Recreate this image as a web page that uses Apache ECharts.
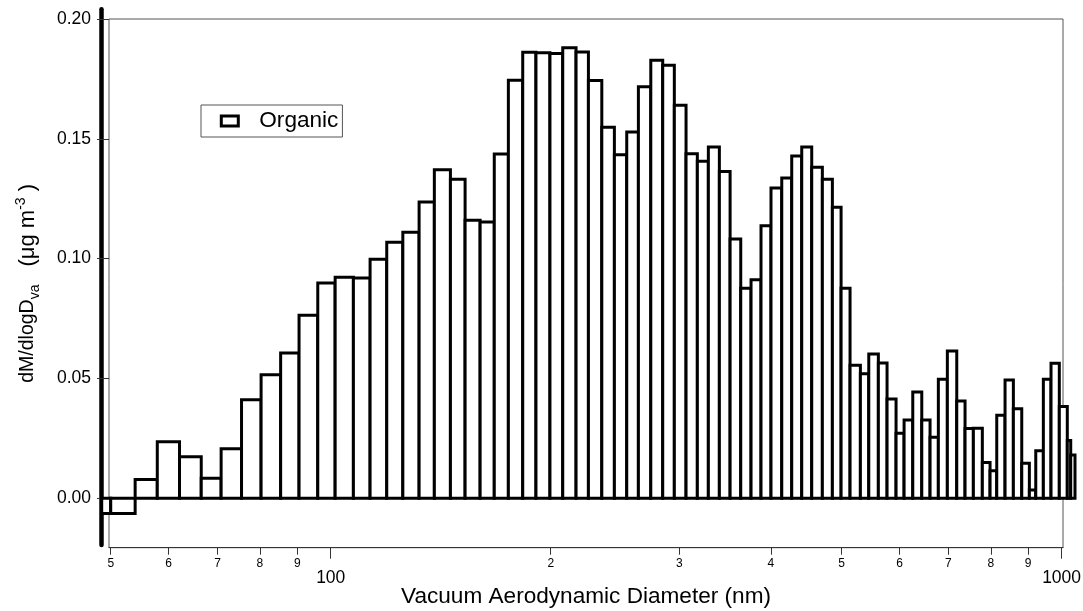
<!DOCTYPE html>
<html>
<head>
<meta charset="utf-8">
<style>
  html, body { margin: 0; padding: 0; background: #fff; }
  #chart { width: 1083px; height: 611px; }
</style>
<script src="https://cdn.jsdelivr.net/npm/echarts@6/dist/echarts.min.js"></script>
</head>
<body>
<div id="chart"></div>
<script>
// Bin edges (nm, vacuum aerodynamic diameter)
const binEdges = [48.6, 50.0, 54.0, 57.9, 62.1, 66.5, 70.8, 75.5, 80.3, 85.4, 90.5, 96.0,
  101.4, 107.4, 113.2, 119.3, 125.5, 132.1, 138.6, 145.8, 152.7, 160.1, 167.4, 175.0,
  183.1, 190.9, 199.5, 207.7, 216.6, 225.2, 234.9, 244.4, 254.1, 263.6, 274.1, 284.6,
  295.2, 306.3, 317.4, 328.6, 340.2, 351.9, 363.9, 375.9, 387.9, 400.3, 414.1, 427.3,
  441.0, 455.1, 470.6, 485.7, 499.2, 513.5, 530.5, 544.7, 561.4, 577.0, 593.6, 608.8,
  625.7, 643.7, 660.7, 678.2, 697.7, 718.7, 737.7, 757.3, 779.0, 798.2, 815.2, 836.8,
  859.0, 882.0, 903.4, 921.8, 944.1, 967.2, 992.8, 1018.1, 1029.1, 1043.1];

// Organic dM/dlogDva (ug m^-3) per bin
const organic = [-0.0063, -0.0063, 0.0079, 0.0236, 0.0174, 0.0084, 0.0207, 0.0411, 0.0516, 0.0606,
  0.0764, 0.0898, 0.0922, 0.0919, 0.0998, 0.1068, 0.1110, 0.1236, 0.1371, 0.1331,
  0.1160, 0.1153, 0.1437, 0.1744, 0.1861, 0.1859, 0.1856, 0.1880, 0.1862, 0.1743,
  0.1548, 0.1434, 0.1529, 0.1717, 0.1828, 0.1807, 0.1640, 0.1438, 0.1406, 0.1466,
  0.1364, 0.1082, 0.0877, 0.0912, 0.1137, 0.1295, 0.1337, 0.1428, 0.1466, 0.1381,
  0.1331, 0.1215, 0.0877, 0.0555, 0.0520, 0.0602, 0.0565, 0.0414, 0.0272, 0.0327,
  0.0444, 0.0327, 0.0255, 0.0497, 0.0615, 0.0406, 0.0291, 0.0292, 0.0149, 0.0115,
  0.0347, 0.0494, 0.0374, 0.0146, 0.0035, 0.0199, 0.0497, 0.0564, 0.0383, 0.0241, 0.0181];

const seriesName = 'Organic';
const xMinorTicks = [50, 60, 70, 80, 90, 200, 300, 400, 500, 600, 700, 800, 900];
const xMajorTicks = [100, 1000];
const yTicks = [0, 0.05, 0.10, 0.15, 0.20];
const xTitle = 'Vacuum Aerodynamic Diameter (nm)';

const FONT = '"Liberation Sans", Arial, sans-serif';

const barData = organic.map((v, i) => [binEdges[i], binEdges[i + 1], v]);

function renderBar(params, api) {
  const x0 = api.value(0), x1 = api.value(1), v = api.value(2);
  const p0 = api.coord([x0, 0]);
  const p1 = api.coord([x1, v]);
  return {
    type: 'rect',
    shape: {
      x: p0[0],
      y: Math.min(p0[1], p1[1]),
      width: p1[0] - p0[0],
      height: Math.abs(p1[1] - p0[1])
    },
    style: { fill: '#fff', stroke: '#000', lineWidth: 3 }
  };
}

const chart = echarts.init(document.getElementById('chart'), null, { renderer: 'canvas' });

chart.setOption({
  animation: false,
  backgroundColor: '#fff',
  textStyle: { fontFamily: FONT },
  grid: [
    { left: 109, right: 20, top: 19, bottom: 63.3, show: true, borderColor: '#555', borderWidth: 1,
      backgroundColor: 'transparent', containLabel: false, outerBoundsMode: 'none' },
    { left: 101.7, right: 20, top: 9.3, bottom: 66, show: false, containLabel: false, outerBoundsMode: 'none' }
  ],
  legend: {
    data: [{ name: seriesName, icon: 'rect', itemStyle: { color: '#fff', borderColor: '#000', borderWidth: 3 } }],
    left: 201, top: 105,
    orient: 'vertical',
    selectedMode: false,
    backgroundColor: '#fff',
    borderColor: '#555', borderWidth: 1,
    padding: [3, 4, 3, 18.8],
    itemWidth: 17, itemHeight: 10,
    textStyle: { fontSize: 22.6, color: '#000', fontFamily: FONT, padding: [0, 0, 0, 16], lineHeight: 26 }
  },
  xAxis: [
    {
      type: 'log', gridIndex: 0, position: 'bottom',
      min: 49.73, max: 1004.4,
      axisLine: { show: true, onZero: false, lineStyle: { color: '#333', width: 1 } },
      axisTick: { show: true, length: 7, customValues: xMinorTicks, lineStyle: { color: '#333', width: 1 } },
      axisLabel: {
        show: true, customValues: xMinorTicks, fontSize: 12, color: '#000', margin: 10, fontFamily: FONT,
        formatter: v => String(v >= 100 ? Math.round(v / 100) : Math.round(v / 10))
      },
      minorTick: { show: false },
      splitLine: { show: false },
      name: xTitle, nameLocation: 'middle', nameGap: 38,
      nameTextStyle: { fontSize: 22.6, color: '#000', fontFamily: FONT }
    },
    {
      type: 'log', gridIndex: 0, position: 'bottom',
      min: 49.73, max: 1004.4,
      axisLine: { show: false, onZero: false },
      axisTick: { show: true, length: 11, customValues: xMajorTicks, lineStyle: { color: '#333', width: 1 } },
      axisLabel: { show: true, customValues: xMajorTicks, fontSize: 17.5, color: '#000', margin: 21, fontFamily: FONT,
        formatter: v => String(Math.round(v)) },
      splitLine: { show: false }
    },
    {
      type: 'value', gridIndex: 1, min: 0, max: 1, show: false
    }
  ],
  yAxis: [
    {
      type: 'value', gridIndex: 0,
      min: -0.0206, max: 0.2,
      axisLine: { show: false, onZero: false },
      axisTick: { show: true, length: 12, customValues: yTicks, lineStyle: { color: '#333', width: 1 } },
      axisLabel: { show: true, customValues: yTicks, fontSize: 17.5, color: '#000', margin: 18, fontFamily: FONT,
        formatter: v => v.toFixed(2) },
      splitLine: { show: false },
      name: '{m|dM/dlogD}{s|va}{g| }{q|(μg m}{p|-3}{q| )}',
      nameLocation: 'middle', nameRotate: 90, nameGap: 67,
      nameTextStyle: {
        color: '#000',
        rich: {
          m: { fontSize: 19.5, lineHeight: 28, fontFamily: FONT, color: '#000' },
          q: { fontSize: 22, lineHeight: 28, fontFamily: FONT, color: '#000' },
          g: { fontSize: 20, lineHeight: 28, width: 18, fontFamily: FONT },
          s: { fontSize: 14, lineHeight: 14, verticalAlign: 'bottom', fontFamily: FONT, color: '#000' },
          p: { fontSize: 14, lineHeight: 14, verticalAlign: 'top', fontFamily: FONT, color: '#000' }
        }
      }
    },
    {
      type: 'value', gridIndex: 1, min: 0, max: 1,
      axisLine: { show: true, onZero: false, lineStyle: { color: '#000', width: 4.5, cap: 'round' } },
      axisTick: { show: false },
      axisLabel: { show: false },
      splitLine: { show: false }
    }
  ],
  series: [
    {
      name: seriesName,
      type: 'custom',
      coordinateSystem: 'cartesian2d',
      xAxisIndex: 0, yAxisIndex: 0,
      clip: false,
      itemStyle: { color: '#fff', borderColor: '#000', borderWidth: 3 },
      renderItem: renderBar,
      encode: { x: [0, 1], y: 2 },
      data: barData
    }
  ]
});
</script>
</body>
</html>
